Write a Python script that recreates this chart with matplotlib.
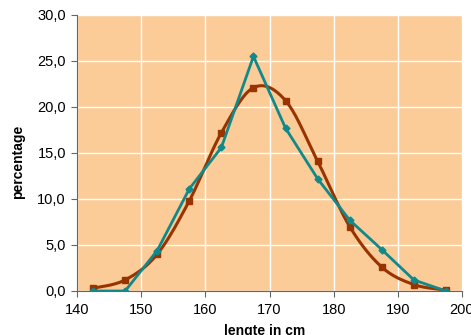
import numpy as np
import matplotlib
matplotlib.use("Agg")
import matplotlib.pyplot as plt
from matplotlib.ticker import FuncFormatter

# lengte (klassemidden) in cm
lengte = [142.5, 147.5, 152.5, 157.5, 162.5, 167.5, 172.5, 177.5, 182.5, 187.5, 192.5, 197.5]
# percentages per serie
serie_bruin = [0.3, 1.2, 4.0, 9.8, 17.2, 22.1, 20.7, 14.1, 7.0, 2.6, 0.7, 0.1]
serie_blauw = [0.0, 0.0, 4.4, 11.1, 15.6, 25.5, 17.7, 12.2, 7.7, 4.5, 1.2, 0.0]

x_ticks = [140, 150, 160, 170, 180, 190, 200]
y_ticks = [0, 5, 10, 15, 20, 25, 30]


def smooth(x, y, n=20):
    # Catmull-Rom curve through the points, like Excel's smoothed line
    x = np.asarray(x, float)
    y = np.asarray(y, float)
    px = np.concatenate([[x[0]], x, [x[-1]]])
    py = np.concatenate([[y[0]], y, [y[-1]]])
    xs, ys = [], []
    t = np.linspace(0, 1, n)
    for i in range(1, len(px) - 2):
        for p, out in ((px, xs), (py, ys)):
            p0, p1, p2, p3 = p[i - 1], p[i], p[i + 1], p[i + 2]
            out.extend(0.5 * (2 * p1 + (-p0 + p2) * t
                              + (2 * p0 - 5 * p1 + 4 * p2 - p3) * t ** 2
                              + (-p0 + 3 * p1 - 3 * p2 + p3) * t ** 3))
    return xs, ys


plt.rcParams['font.family'] = ['Liberation Sans', 'DejaVu Sans']

fig = plt.figure(figsize=(4.71, 3.35), dpi=100)
ax = fig.add_axes([77 / 471, 44 / 335, 385 / 471, 276 / 335])
ax.set_facecolor('#FBCB98')

bruin = '#993300'
blauw = '#11898A'

sx, sy = smooth(lengte, serie_bruin)
ax.plot(sx, sy, color=bruin, lw=2.2, zorder=3)
ax.plot(lengte, serie_bruin, ls='none', marker='s', ms=5, color=bruin, zorder=4)
ax.plot(lengte, serie_blauw, color=blauw, lw=2.0, marker='D', ms=3.5, zorder=5)

ax.set_xlim(140, 200)
ax.set_ylim(0, 30)
ax.set_xticks(x_ticks)
ax.set_yticks(y_ticks)
ax.yaxis.set_major_formatter(FuncFormatter(lambda v, p: f"{v:.1f}".replace('.', ',')))
ax.grid(True, color='white', lw=1.0)
ax.set_axisbelow(True)

for s in ['top', 'right']:
    ax.spines[s].set_visible(False)
for s in ['left', 'bottom']:
    ax.spines[s].set_color('#666666')
ax.tick_params(direction='out', length=4, color='#666666', labelsize=10.5)
ax.tick_params(axis='x', pad=5)
ax.tick_params(axis='y', pad=4)

ax.set_ylabel('percentage', fontsize=10, fontweight='bold')
ax.yaxis.set_label_coords(-0.134, 0.467)
ax.set_xlabel('lengte in cm', fontsize=10, fontweight='bold')
ax.xaxis.set_label_coords(0.488, -0.118)

fig.savefig('out.png', dpi=100)
